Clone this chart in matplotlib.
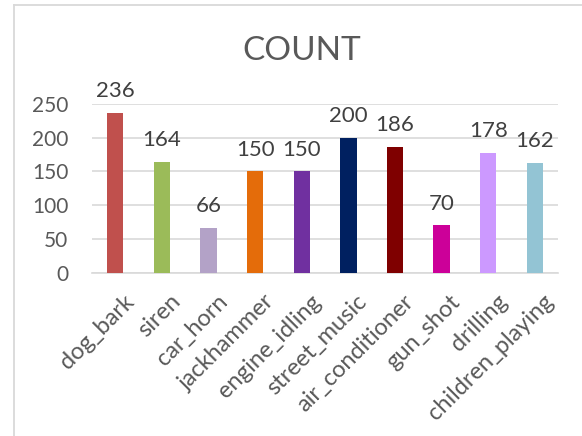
import matplotlib.pyplot as plt
from matplotlib.lines import Line2D
from matplotlib.transforms import ScaledTranslation

# data
categories = ["dog_bark", "siren", "car_horn", "jackhammer", "engine_idling",
              "street_music", "air_conditioner", "gun_shot", "drilling", "children_playing"]
counts = [236, 164, 66, 150, 150, 200, 186, 70, 178, 162]
bar_colors = ["#C0504D", "#9BBB59", "#B3A2C7", "#E46C0A", "#7030A0",
              "#002060", "#7F0000", "#CC0099", "#CC99FF", "#93C4D4"]
y_ticks = [0, 50, 100, 150, 200, 250]

plt.rcParams["font.family"] = ["Lato", "DejaVu Sans"]
text_color = "#595959"
grid_color = "#D9D9D9"

fig = plt.figure(figsize=(5.82, 4.36), dpi=100)
ax = fig.add_axes([0.158, 0.3745, 0.801, 0.387])

x = range(len(categories))
bars = ax.bar(x, counts, width=0.35, color=bar_colors, zorder=3)

# value labels above each bar
for b, v in zip(bars, counts):
    ax.annotate(str(v), (b.get_x() + b.get_width() / 2, b.get_height()),
                xytext=(0, 11.5), textcoords="offset points",
                ha="center", va="baseline", fontsize=16, color="#404040")

ax.set_xlim(-0.5, len(categories) - 0.5)
ax.set_ylim(0, 250)
ax.set_yticks(y_ticks)
ax.set_xticks(list(x))
ax.set_xticklabels(categories, rotation=45, ha="right", rotation_mode="anchor",
                   fontsize=17, color=text_color)
ax.tick_params(axis="y", labelsize=15, labelcolor=text_color, length=0, pad=17)
ax.tick_params(axis="x", length=0, pad=13)

# nudge rotated labels so their ends sit just right of the bars
for lab in ax.get_xticklabels():
    lab.set_transform(lab.get_transform() + ScaledTranslation(0.08, 0, fig.dpi_scale_trans))

ax.yaxis.grid(True, color=grid_color, lw=1.2, zorder=0)
for side in ["top", "right", "left"]:
    ax.spines[side].set_visible(False)
ax.spines["bottom"].set_color(grid_color)
ax.spines["bottom"].set_linewidth(1.2)

fig.text(0.519, 0.883, "COUNT", ha="center", va="center", fontsize=24, color=text_color)

# chart area border (left and top edges visible)
fig.add_artist(Line2D([14 / 582, 14 / 582], [0, 1 - 5 / 436], transform=fig.transFigure,
                      color=grid_color, lw=1.3))
fig.add_artist(Line2D([14 / 582, 1], [1 - 5 / 436, 1 - 5 / 436], transform=fig.transFigure,
                      color=grid_color, lw=1.3))
# tail of cut-off text above the chart
fig.text(0.722, 1.0 + 8 / 436, "y", ha="center", va="baseline", fontsize=14,
         family="Liberation Serif", color="black")

fig.savefig("out.png", dpi=100)
